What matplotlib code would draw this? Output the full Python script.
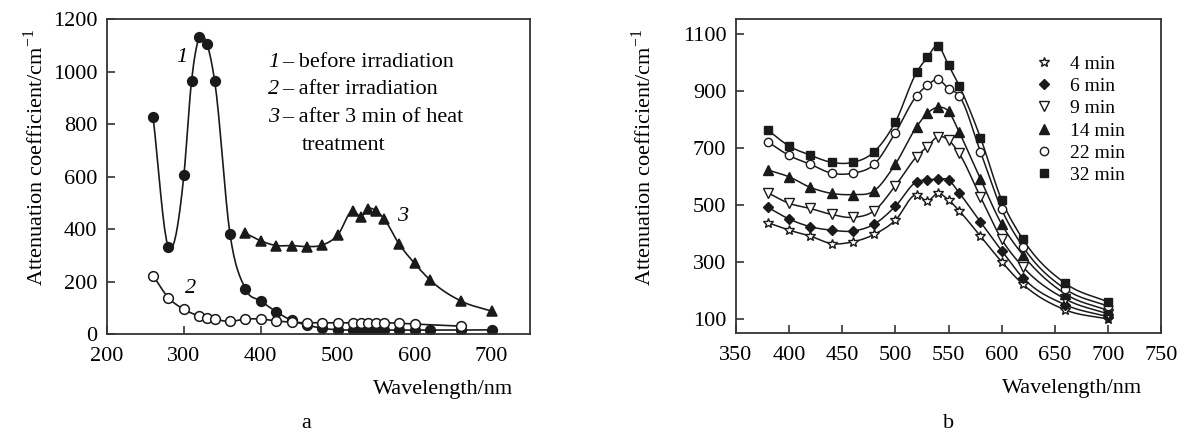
import numpy as np
import matplotlib
matplotlib.use('Agg')
import matplotlib.pyplot as plt

plt.rcParams['font.family'] = 'Liberation Serif'
plt.rcParams['font.size'] = 16
plt.rcParams['mathtext.fontset'] = 'custom'
plt.rcParams['mathtext.rm'] = 'Liberation Serif'

# panel a data
wl_a1 = [260, 280, 300, 310, 320, 330, 340, 360, 380, 400, 420, 440, 460, 480,
         500, 520, 530, 540, 550, 560, 580, 600, 620, 660, 700]
att_a1 = [825, 330, 605, 965, 1130, 1105, 965, 380, 172, 126, 85, 52, 34, 22,
          16, 15, 15, 15, 15, 15, 15, 15, 15, 15, 16]
wl_a2 = [260, 280, 300, 320, 330, 340, 360, 380, 400, 420, 440, 460, 480, 500,
         520, 530, 540, 550, 560, 580, 600, 660]
att_a2 = [222, 138, 94, 69, 62, 56, 48, 57, 57, 50, 45, 43, 43, 43,
          43, 43, 43, 43, 43, 41, 38, 30]
wl_a3 = [380, 400, 420, 440, 460, 480, 500, 520, 530, 540, 550, 560, 580, 600,
         620, 660, 700]
att_a3 = [384, 355, 337, 337, 333, 339, 377, 470, 447, 478, 469, 440, 342, 269,
          206, 126, 87]

# panel b data
wl_b = [380, 400, 420, 440, 460, 480, 500, 520, 530, 540, 550, 560, 580, 600,
        620, 660, 700]
times = ['4 min', '6 min', '9 min', '14 min', '22 min', '32 min']
att_4 = [438, 412, 391, 365, 371, 397, 447, 537, 514, 541, 518, 480, 391, 301, 222, 132, 100]
att_6 = [492, 451, 424, 412, 409, 433, 496, 582, 588, 591, 588, 543, 441, 340, 245, 150, 108]
att_9 = [543, 506, 488, 467, 457, 480, 568, 670, 705, 740, 728, 681, 529, 380, 283, 170, 118]
att_14 = [623, 599, 562, 541, 537, 550, 644, 775, 822, 843, 829, 756, 592, 433, 325, 188, 130]
att_22 = [722, 674, 643, 612, 612, 643, 754, 884, 920, 941, 909, 884, 688, 485, 354, 205, 145]
att_32 = [763, 707, 675, 650, 650, 687, 792, 966, 1018, 1059, 991, 919, 737, 518, 380, 225, 160]


# smooth curve through points (cubic hermite, for drawing the line only)
def smooth(x, y, n=12):
    x = np.asarray(x, float)
    y = np.asarray(y, float)
    m = np.gradient(y, x)
    xs, ys = [], []
    for i in range(len(x) - 1):
        h = x[i + 1] - x[i]
        t = np.linspace(0, 1, n, endpoint=False)
        h00 = 2 * t**3 - 3 * t**2 + 1
        h10 = t**3 - 2 * t**2 + t
        h01 = -2 * t**3 + 3 * t**2
        h11 = t**3 - t**2
        xs.append(x[i] + t * h)
        ys.append(h00 * y[i] + h10 * h * m[i] + h01 * y[i + 1] + h11 * h * m[i + 1])
    xs.append([x[-1]])
    ys.append([y[-1]])
    return np.concatenate(xs), np.concatenate(ys)


col = '#1a1a1a'
ylab = 'Attenuation coefficient/cm$^{\\mathregular{-1}}$'
fig = plt.figure(figsize=(11.78, 4.34), dpi=100)
ax1 = fig.add_axes([0.0908, 0.2304, 0.3591, 0.7258])
ax2 = fig.add_axes([0.6248, 0.2327, 0.3608, 0.7235])

# panel a
for wl, att, mfc, z in [(wl_a1, att_a1, col, 2), (wl_a3, att_a3, col, 2),
                        (wl_a2, att_a2, 'white', 3)]:
    sx, sy = smooth(wl, att, 8)
    ax1.plot(sx, sy, color=col, lw=1.2, zorder=z)
    mk = '^' if wl is wl_a3 else 'o'
    ax1.plot(wl, att, ls='none', marker=mk, ms=7, mfc=mfc, mec=col, mew=1.1, zorder=z)

ax1.set_xlim(200, 750)
ax1.set_ylim(0, 1200)
ax1.set_xticks([200, 300, 400, 500, 600, 700])
ax1.set_yticks(range(0, 1201, 200))
ax1.text(297, 1055, '1', style='italic', ha='center', va='center')
ax1.text(309, 175, '2', style='italic', ha='center', va='center')
ax1.text(585, 446, '3', style='italic', ha='center', va='center')
legend_a = [('1', 'before irradiation'), ('2', 'after irradiation'),
            ('3', 'after 3 min of heat')]
for (num, txt), yy in zip(legend_a, [1034, 930, 823]):
    ax1.text(409, yy, num, style='italic', ha='left', va='center')
    ax1.text(428, yy, '\u2013 ' + txt, ha='left', va='center')
ax1.text(454, 720, 'treatment', ha='left', va='center')
ax1.set_xlabel('Wavelength/nm', ha='right')
ax1.xaxis.set_label_coords(0.96, -0.145)
ax1.set_ylabel(ylab)
ax1.yaxis.set_label_coords(-0.14, 0.56)
fig.text(0.26, 0.025, 'a', ha='center', va='center')

# panel b
series_b = [att_4, att_6, att_9, att_14, att_22, att_32]
markers = ['*', 'D', 'v', '^', 'o', 's']
fills = ['white', col, 'white', col, 'white', col]
sizes = [7, 5.5, 6.5, 6.5, 6, 5.5]
for att, lab, mk, mfc, ms in zip(series_b, times, markers, fills, sizes):
    sx, sy = smooth(wl_b, att, 8)
    ax2.plot(sx, sy, color=col, lw=1.1, zorder=2)
    ax2.plot(wl_b, att, ls='none', marker=mk, ms=ms, mfc=mfc, mec=col, mew=1.0,
             label=lab, zorder=3)

ax2.set_xlim(350, 750)
ax2.set_ylim(51, 1153)
ax2.set_xticks(range(350, 751, 50))
ax2.set_yticks(range(100, 1101, 200))
ax2.legend(loc='upper left', bbox_to_anchor=(0.697, 0.885), frameon=False,
           handlelength=1.2, handletextpad=0.75, labelspacing=0.24, fontsize=14,
           borderpad=0, borderaxespad=0)
ax2.set_xlabel('Wavelength/nm', ha='right')
ax2.xaxis.set_label_coords(0.955, -0.145)
ax2.set_ylabel(ylab)
ax2.yaxis.set_label_coords(-0.188, 0.56)
fig.text(0.805, 0.025, 'b', ha='center', va='center')

for ax in (ax1, ax2):
    for s in ax.spines.values():
        s.set_linewidth(1.3)
        s.set_color('#333333')
    ax.tick_params(direction='in', length=6, width=1.2, color='#333333',
                   labelsize=16)
    ax.tick_params(axis='x', pad=9)
    ax.tick_params(axis='y', pad=7)

plt.savefig('out.png', dpi=100)
